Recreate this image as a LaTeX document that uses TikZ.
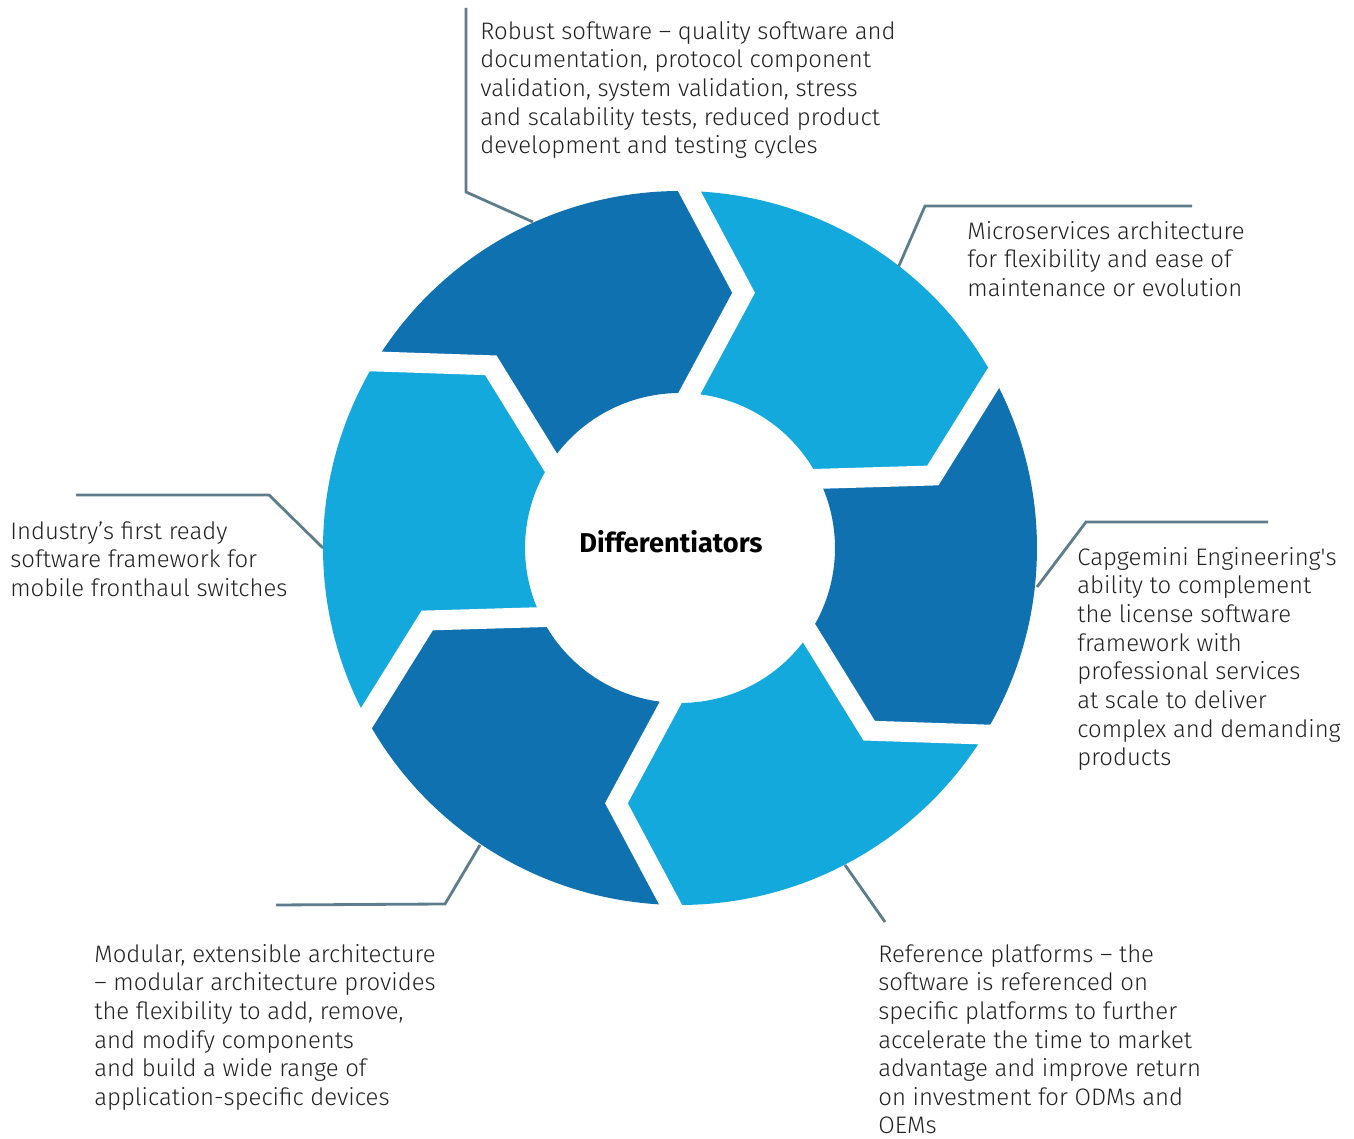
\documentclass[tikz,border=0pt]{standalone}
\usepackage{fontspec}
\usetikzlibrary{calc}
\IfFontExistsTF{Fira Sans Light}{\setmainfont{Fira Sans Light}}{%
  \IfFontExistsTF{FiraSans-Light}{\setmainfont{FiraSans-Light}}{\setmainfont{Fira Sans}}}
\newfontfamily\centrefont{Fira Sans}

\definecolor{ringdark}{RGB}{15,113,175}
\definecolor{ringlight}{RGB}{19,169,220}
\definecolor{leadergrey}{RGB}{94,125,140}
\definecolor{textgrey}{RGB}{34,34,34}

\tikzset{
    note/.style={anchor=north west, inner sep=0pt, align=left, text=textgrey,
        font=\fontsize{13.6}{16.3}\selectfont},
    leader/.style={draw=leadergrey, line width=1.6pt},
    gap/.style={draw=white, line width=0.4cm}
}

\begin{document}
\begin{tikzpicture}[x=0.02cm, y=0.02cm]
        \useasboundingbox (0,0) rectangle (1354,1138);

        % Leader lines (drawn first, the ring covers their ends)
        \coordinate (robustA) at (466,1130);
        \coordinate (robustB) at (466,946);
        \coordinate (robustC) at (533,916);
        \coordinate (microA) at (1192,932);
        \coordinate (microB) at (925,932);
        \coordinate (microC) at (898,870);
        \coordinate (capgA) at (1268,616);
        \coordinate (capgB) at (1086,616);
        \coordinate (capgC) at (1037,551);
        \coordinate (refA) at (885,216);
        \coordinate (refC) at (845,273);
        \coordinate (modA) at (276,233);
        \coordinate (modB) at (445,234);
        \coordinate (modC) at (480,293);
        \coordinate (indA) at (76,643);
        \coordinate (indB) at (269,643);
        \coordinate (indC) at (323,590);
        \draw[leader] (robustA) -- (robustB) -- (robustC);
        \draw[leader] (microA) -- (microB) -- (microC);
        \draw[leader] (capgA) -- (capgB) -- (capgC);
        \draw[leader] (refA) -- (refC);
        \draw[leader] (modA) -- (modB) -- (modC);
        \draw[leader] (indA) -- (indB) -- (indC);

        % Ring of chevron segments
        \begin{scope}[shift={(680,590)}]
            \foreach \a/\col in {148.5/ringdark, 88.5/ringlight, 28.5/ringdark, -31.5/ringlight, -91.5/ringdark, -151.5/ringlight} {
                \fill[\col] (\a:357) arc[start angle=\a, end angle=\a-60, radius=357]
                    -- (\a-72.5:263) -- (\a-62:155)
                    arc[start angle=\a-62, end angle=\a-2, radius=155]
                    -- (\a-12.5:263) -- cycle;
            }
            % White gaps between the segments
            \foreach \a in {148.5, 88.5, 28.5, -31.5, -91.5, -151.5} {
                \draw[gap] ($(\a-12.5:263)!1.3!(\a:357)$) -- (\a-12.5:263) -- ($(\a-12.5:263)!1.3!(\a-2:155)$);
            }
        \end{scope}

        % Centre label
        \node (centre) at (671,596) {\centrefont\fontsize{15.5}{18}\selectfont\bfseries Differentiators};

        % Texts round the ring
        \node[note] (robust) at (480,1117) {Robust software – quality software and\\documentation, protocol component\\validation, system validation, stress\\and scalability tests, reduced product\\development and testing cycles};
        \node[note] (micro) at (967,917) {Microservices architecture\\for flexibility and ease of\\maintenance or evolution};
        \node[note] (capg) at (1077,591) {Capgemini Engineering\textquotesingle s\\ability to complement\\the license software\\framework with\\professional services\\at scale to deliver\\complex and demanding\\products};
        \node[note] (ref) at (878,194) {Reference platforms – the\\software is referenced on\\specific platforms to further\\accelerate the time to market\\advantage and improve return\\on investment for ODMs and\\OEMs};
        \node[note] (mod) at (94,194) {Modular, extensible architecture\\– modular architecture provides\\the flexibility to add, remove,\\and modify components\\and build a wide range of\\application-specific devices};
        \node[note] (ind) at (10,617) {Industry’s first ready\\software framework for\\mobile fronthaul switches};

    \end{tikzpicture}
\end{document}
